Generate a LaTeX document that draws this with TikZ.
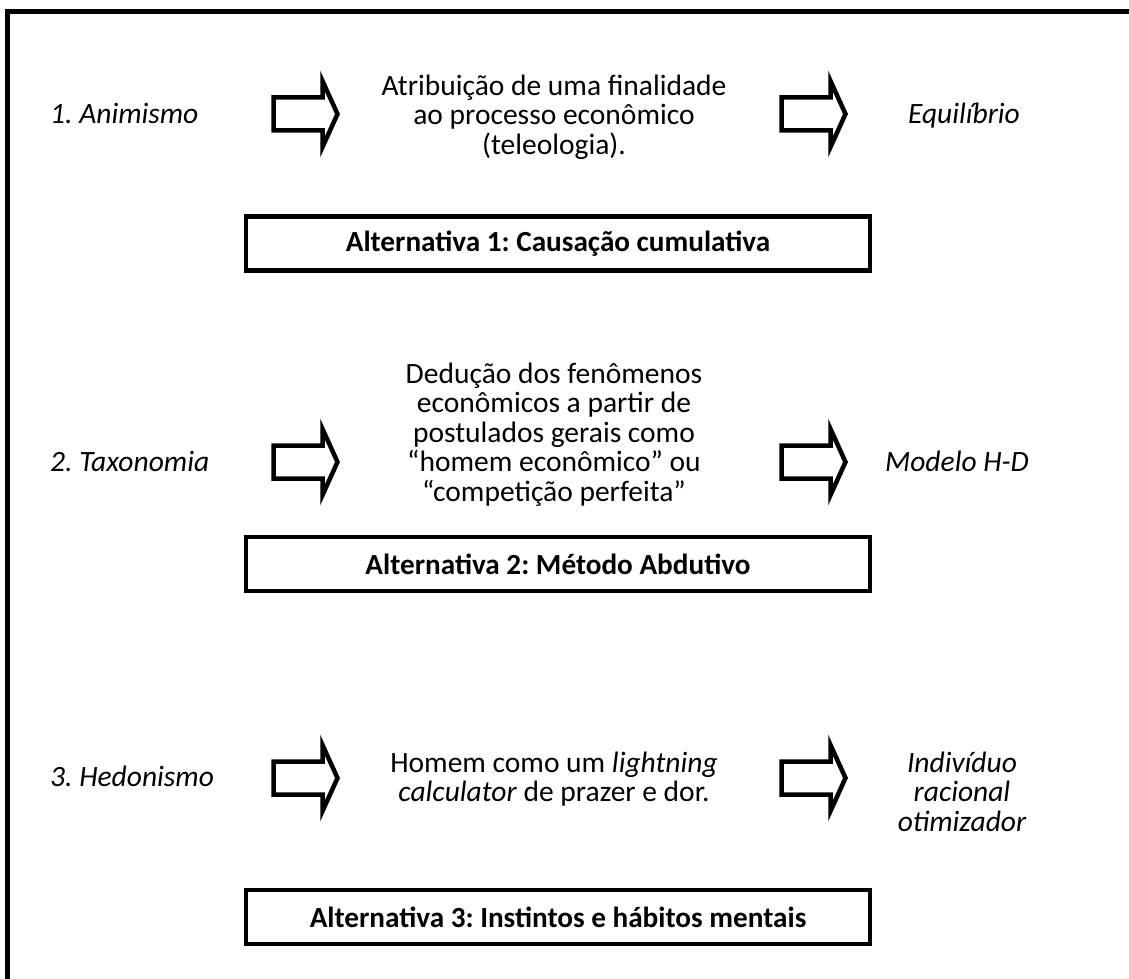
\documentclass[tikz,border=0pt]{standalone}
\usepackage{fontspec}
\setmainfont{Carlito}
\frenchspacing
\begin{document}
\begin{tikzpicture}[x=1pt,y=-1pt,
  txt/.style={font=\fontsize{29.5}{29.5}\selectfont, inner sep=0pt, align=center, anchor=base},
  lefttxt/.style={txt, anchor=base west},
  altbox/.style={draw, line width=4.5pt, minimum width=624pt, minimum height=54pt, inner sep=0pt,
    font=\fontsize{29.2}{29.5}\selectfont\bfseries},
  arrowline/.style={draw, line width=4.5pt, line join=miter, miter limit=10},
  barrow/.pic={\path[arrowline] (0,-16.5) -- (49,-16.5) -- (49,-33) -- (64,0) -- (49,33) -- (49,16.5) -- (0,16.5) -- cycle;}
]
\clip (0,0) rectangle (1129,979);
% outer frame (right and bottom edges lie outside the picture)
\draw[line width=5pt] (7.5,1000) -- (7.5,11.5) -- (1150,11.5);

% row 1 (multi-line nodes: base anchor = baseline of last line)
\node[lefttxt] (l1) at (50,124) {\itshape 1. Animismo};
\pic at (273.5,114) {barrow};
\node[txt] (m1) at (554,154) {Atribuição de uma finalidade\\ao processo econômico\\(teleologia).};
\pic at (781.5,114) {barrow};
\node[txt] (r1) at (964,124) {\itshape Equilíbrio};
\node[altbox] (a1) at (558,243.5) {Alternativa 1: Causação cumulativa};

% row 2
\node[lefttxt] (l2) at (50,471) {\itshape 2. Taxonomia};
\pic at (273.5,462) {barrow};
\node[txt] (m2) at (554,501) {Dedução dos fenômenos\\econômicos a partir de\\postulados gerais como\\“homem econômico” ou\\“competição perfeita”};
\pic at (781.5,462) {barrow};
\node[txt] (r2) at (957,471) {\itshape Modelo H-D};
\node[altbox] (a2) at (558,564) {Alternativa 2: Método Abdutivo};

% row 3
\node[lefttxt] (l3) at (50,786) {\itshape 3. Hedonismo};
\pic at (273.5,778) {barrow};
\node[txt] (m3) at (554,801.5) {Homem como um \textit{lightning}\\\textit{calculator} de prazer e dor.};
\pic at (781.5,778) {barrow};
\node[txt] (r3) at (962,831) {\itshape Indivíduo\\\itshape racional\\\itshape otimizador};
\node[altbox] (a3) at (558,917) {Alternativa 3: Instintos e hábitos mentais};
\end{tikzpicture}
\end{document}
